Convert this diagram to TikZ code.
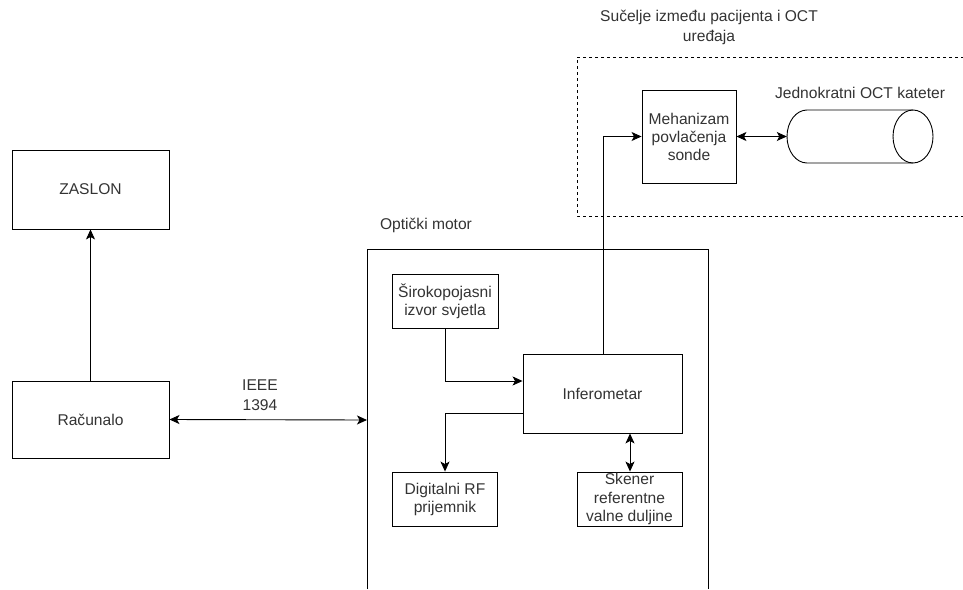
\documentclass[tikz,border=0pt]{standalone}
\usepackage{fontspec}
\setmainfont{Liberation Sans}
\usetikzlibrary{arrows.meta}
\definecolor{txt}{HTML}{333333}
\begin{document}
\begin{tikzpicture}[x=1pt,y=-1pt,
  box/.style={draw,line width=0.9pt,inner sep=0pt,align=center,text=txt,font=\fontsize{15.6}{18}\selectfont},
  lbl/.style={text=txt,font=\fontsize{15.6}{20}\selectfont,align=center,inner sep=0pt},
  tip/.style={Stealth[length=10pt,width=9pt,inset=2.5pt]},
  conn/.style={line width=0.9pt,-{Stealth[length=10pt,width=9pt,inset=2.5pt]}},
  dconn/.style={line width=0.9pt,{Stealth[length=10pt,width=9pt,inset=2.5pt]}-{Stealth[length=10pt,width=9pt,inset=2.5pt]}}]
\useasboundingbox (0,0) rectangle (963,589);
% outer frames
\draw[line width=0.9pt] (367,589) -- (367,249) -- (708,249) -- (708,589);
\draw[line width=0.8pt,dashed,dash pattern=on 3pt off 3pt] (970,57) -- (577,57) -- (577,216) -- (970,216);
% nodes
\node[box,minimum width=157pt,minimum height=79pt] (zaslon) at (90.5,189.5) {ZASLON};
\node[box,minimum width=157pt,minimum height=77pt] (racunalo) at (90.5,419.5) {Računalo};
\node[box,minimum width=106pt,minimum height=54pt] (izvor) at (445,301) {Širokopojasni\\izvor svjetla};
\node[box,minimum width=159pt,minimum height=79pt] (infero) at (602.5,393.5) {Inferometar};
\node[box,minimum width=105pt,minimum height=54pt] (rf) at (445,499) {Digitalni RF\\prijemnik};
\node[box,minimum width=105pt,minimum height=54pt,font=\fontsize{15.6}{18.5}\selectfont] (skener) at (629.5,499) {Skener\\referentne\\valne duljine};
\node[box,minimum width=94pt,minimum height=93pt] (meh) at (689,136.5) {Mehanizam\\povlačenja\\sonde};
\node[minimum width=146pt,minimum height=53pt,inner sep=0pt] (cath) at (860,136.5) {};
\draw[line width=0.9pt] (807,110) -- (913,110) (807,163) -- (913,163)
  (807,110) arc[start angle=270,end angle=90,x radius=20,y radius=26.5];
\draw[line width=0.9pt] (913,136.5) ellipse[x radius=20,y radius=26.5];
% labels
\node[lbl] (optl) at (426,225) {Optički motor};
\node[lbl] (katl) at (860,93) {Jednokratni OCT kateter};
\node[lbl] (sucl) at (709,27) {Sučelje između pacijenta i OCT\\uređaja};
\node[lbl] (ieee) at (260,395.5) {IEEE\\1394};
% connectors
\coordinate (motorL) at (367,420);
\draw[conn] (racunalo.north) -- (zaslon.south);
\draw[dconn] (racunalo.east) -- (motorL);
\draw[conn] (izvor.south) |- (infero.west |- 0,381);
\draw[conn] (infero.west |- 0,413) -| (rf.north);
\draw[dconn] (skener.north -| 630,0) -- (infero.south -| 630,0);
\draw[conn] (infero.north -| 603,0) |- (meh.west);
\draw[dconn] (meh.east) -- (cath.west);
\end{tikzpicture}
\end{document}
